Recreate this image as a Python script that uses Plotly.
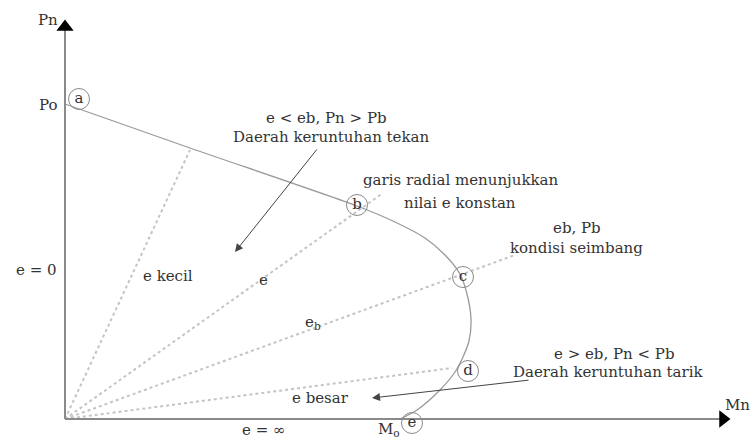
import plotly.graph_objects as go

# Interaction diagram P-M (units roughly pixels of the original sketch)
curve_mn = [0, 125, 292, 330, 360, 380, 395, 402, 406, 404, 398, 390, 375, 352, 335]
curve_pn = [315, 271, 213, 197, 181, 164, 145, 125, 100, 78, 62, 47, 29, 9, 0]

# radial lines (constant eccentricity) from origin
radial_mn = [125, 318, 450, 387]
radial_pn = [269, 226, 164, 51]

# labelled points on the curve
point_names = ["a", "b", "c", "d", "e"]
point_mn = [14, 292, 398, 403, 347]
point_pn = [320, 214, 142, 48, -4]

mn_max = 665
pn_max = 399

FONT = "DejaVu Serif"
TXT = "#333333"
FS = 15

fig = go.Figure()

# radial dotted lines
for m, p in zip(radial_mn, radial_pn):
    fig.add_trace(go.Scatter(x=[0, m], y=[0, p], mode="lines",
                             line=dict(color="#c4c4c4", width=2, dash="dot"),
                             hoverinfo="skip"))

# interaction curve
fig.add_trace(go.Scatter(x=curve_mn, y=curve_pn, mode="lines",
                         line=dict(color="#9a9a9a", width=1.3, shape="spline", smoothing=0.8),
                         hoverinfo="skip"))

# axes
fig.add_trace(go.Scatter(x=[0, 0], y=[0, pn_max - 6], mode="lines",
                         line=dict(color="#8a8a8a", width=2), hoverinfo="skip"))
fig.add_trace(go.Scatter(x=[0, mn_max - 6], y=[0, 0], mode="lines",
                         line=dict(color="#8a8a8a", width=2), hoverinfo="skip"))
fig.add_trace(go.Scatter(x=[0], y=[pn_max - 7], mode="markers",
                         marker=dict(symbol="triangle-up", size=15, color="black"),
                         hoverinfo="skip"))
fig.add_trace(go.Scatter(x=[mn_max - 7], y=[0], mode="markers",
                         marker=dict(symbol="triangle-right", size=15, color="black"),
                         hoverinfo="skip"))

# circled point letters
fig.add_trace(go.Scatter(x=point_mn, y=point_pn, mode="markers+text",
                         text=point_names, textposition="middle center",
                         textfont=dict(family=FONT, size=FS, color=TXT),
                         marker=dict(symbol="circle-open", size=21, color="#8a8a8a",
                                     line=dict(color="#8a8a8a", width=1)),
                         hoverinfo="skip"))

labels = [
    ("Pn", -17, 399),
    ("Po", -17, 314),
    ("e < eb, Pn > Pb", 261, 301),
    ("Daerah keruntuhan tekan", 266, 282),
    ("garis radial menunjukkan", 396, 239),
    ("nilai e konstan", 395, 216),
    ("eb, Pb", 512, 191),
    ("kondisi seimbang", 511, 171),
    ("e > eb, Pn < Pb", 549, 65),
    ("Daerah keruntuhan tarik", 543, 47),
    ("e besar", 255, 21),
    ("Mn", 672, 14),
    ("M<sub>o</sub>", 324, -10),
    ("e = 0", -29, 149),
    ("e kecil", 103, 143),
    ("e", 198, 139),
    ("e<sub>b</sub>", 248, 97),
    ("e = ∞", 198, -11),
]
for t, x, y in labels:
    fig.add_annotation(x=x, y=y, text=t, showarrow=False,
                       font=dict(family=FONT, size=FS, color=TXT))

# pointer arrows
fig.add_annotation(x=170, y=167, ax=253, ay=271, axref="x", ayref="y",
                   text="", showarrow=True, arrowhead=2, arrowsize=1.6,
                   arrowwidth=1, arrowcolor="#444444")
fig.add_annotation(x=307, y=21, ax=465, ay=39, axref="x", ayref="y",
                   text="", showarrow=True, arrowhead=2, arrowsize=1.6,
                   arrowwidth=1, arrowcolor="#444444")

fig.update_layout(
    width=753, height=441,
    margin=dict(l=0, r=0, t=0, b=0),
    paper_bgcolor="white", plot_bgcolor="white",
    showlegend=False,
    xaxis=dict(range=[-65, 688], visible=False, fixedrange=True),
    yaxis=dict(range=[-22, 419], visible=False, fixedrange=True),
)

fig.write_html("out.html", config={"displayModeBar": False},
               post_script="document.body.style.margin='0';")
